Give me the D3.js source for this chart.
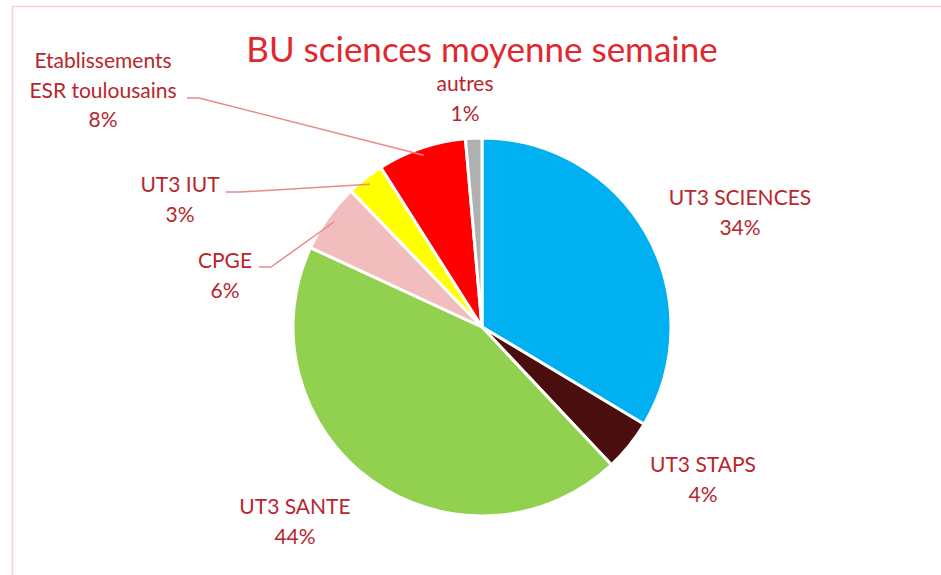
<!DOCTYPE html>
<html>
<head>
<meta charset="utf-8">
<script src="https://cdn.jsdelivr.net/npm/d3@7"></script>
<style>
  body { margin: 0; background: #fff; }
  text { font-family: Lato, "Open Sans", sans-serif; }
</style>
</head>
<body>
<div id="chart"></div>
<script>
// Parts of the weekly average, clockwise from 12 o'clock
const categories = ['UT3 SCIENCES', 'UT3 STAPS', 'UT3 SANTE', 'CPGE', 'UT3 IUT', 'Etablissements ESR toulousains', 'autres'];
const shares = [33.6, 4.4, 43.9, 5.9, 3.2, 7.6, 1.4];
const colours = ['#00B0F0', '#4A0E0E', '#92D050', '#F2BDBD', '#FFFF00', '#FF0000', '#B0B0B0'];

const width = 941, height = 575;
const cx = 482, cy = 327, radius = 189;

// where each label sits (text lines) and whether it gets a leader line
const labelLayout = [
  { x: 740, y: 205, lines: ['UT3 SCIENCES'] },
  { x: 703, y: 472, lines: ['UT3 STAPS'] },
  { x: 295, y: 514, lines: ['UT3 SANTE'] },
  { x: 225, y: 268, lines: ['CPGE'], leader: [[259, 267], [271, 267]] },
  { x: 180, y: 192, lines: ['UT3 IUT'], leader: [[226, 192], [240, 192]] },
  { x: 103, y: 68, lines: ['Etablissements', 'ESR toulousains'], leader: [[187, 98], [199, 98]] },
  { x: 465, y: 91, lines: ['autres'] }
];

const svg = d3.select('#chart').append('svg')
  .attr('width', width)
  .attr('height', height);

// light frame of the chart area
svg.append('path')
  .attr('d', `M12.5,${height} V6.5 H${width}`)
  .attr('fill', 'none')
  .attr('stroke', '#F9CFCF')
  .attr('stroke-width', 1.5);

svg.append('text')
  .attr('x', cx)
  .attr('y', 62)
  .attr('text-anchor', 'middle')
  .attr('font-size', '35px')
  .attr('fill', '#E0282E')
  .text('BU sciences moyenne semaine');

const pie = d3.pie().sort(null).value(d => d);
const arcs = pie(shares);
const arc = d3.arc().innerRadius(0).outerRadius(radius);

const g = svg.append('g').attr('transform', `translate(${cx},${cy})`);

g.selectAll('path')
  .data(arcs)
  .join('path')
  .attr('d', arc)
  .attr('fill', (d, i) => colours[i])
  .attr('stroke', '#fff')
  .attr('stroke-width', 3)
  .attr('stroke-linejoin', 'round');

// leader lines: short horizontal stub then to the slice's outer edge
const edge = d3.arc().innerRadius(radius * 0.96).outerRadius(radius * 0.96);
arcs.forEach((d, i) => {
  const lay = labelLayout[i];
  if (!lay.leader) return;
  const [px, py] = edge.centroid(d);
  const pts = lay.leader.concat([[cx + px, cy + py]]);
  svg.append('path')
    .attr('d', d3.line()(pts))
    .attr('fill', 'none')
    .attr('stroke', '#E98A8A')
    .attr('stroke-width', 1.5);
});

// labels
arcs.forEach((d, i) => {
  const lay = labelLayout[i];
  const t = svg.append('text')
    .attr('text-anchor', 'middle')
    .attr('font-size', '21px')
    .attr('fill', '#B8262C');
  const lines = lay.lines.concat([Math.round(shares[i]) + '%']);
  lines.forEach((ln, k) => {
    t.append('tspan')
      .attr('x', lay.x)
      .attr('y', lay.y + k * 29.5)
      .text(ln);
  });
});
</script>
</body>
</html>
